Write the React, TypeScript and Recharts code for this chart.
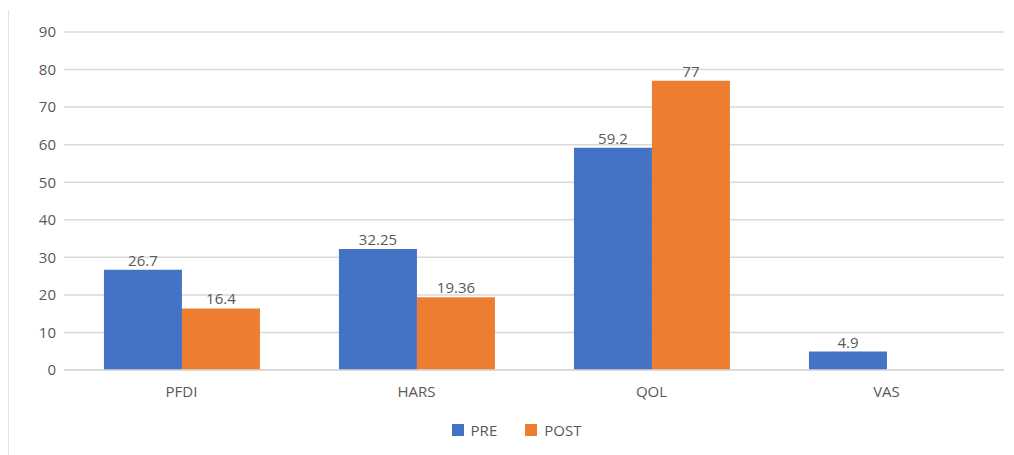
import React from "react";
import { BarChart, Bar, XAxis, YAxis, CartesianGrid, Legend, LabelList } from "recharts";

const categories = ["PFDI", "HARS", "QOL", "VAS"];
const preValues = [26.7, 32.25, 59.2, 4.9];
const postValues: (number | null)[] = [16.4, 19.36, 77, null];
const yTicks = [0, 10, 20, 30, 40, 50, 60, 70, 80, 90];
const seriesNames = ["PRE", "POST"];
const seriesColors = ["#4472C4", "#ED7D31"];

const data = categories.map((c, i) => ({ name: c, PRE: preValues[i], POST: postValues[i] }));

const FONT = "'Open Sans', 'Noto Sans', sans-serif";
const TXT = "#595959";

const LegendContent = () => (
  <div style={{ display: "flex", justifyContent: "center", gap: 28, fontSize: 15, fontFamily: FONT, color: TXT, paddingLeft: 20 }}>
    {seriesNames.map((n, i) => (
      <div key={n} style={{ display: "flex", alignItems: "center", gap: 7 }}>
        <span style={{ display: "inline-block", width: 12, height: 12, background: seriesColors[i] }} />
        <span>{n}</span>
      </div>
    ))}
  </div>
);

export default function App() {
  return (
    <div style={{ width: 1006, height: 447, borderLeft: "1px solid #e4e4e4", marginTop: 2, fontFamily: FONT }}>
      <BarChart
        width={1000}
        height={445}
        data={data}
        margin={{ top: 22, right: 5, left: 0, bottom: 15 }}
        barCategoryGap="17%"
        barGap={0}
      >
        <CartesianGrid vertical={false} stroke="#d9d9d9" strokeWidth={1.5} />
        <XAxis
          dataKey="name"
          height={50}
          axisLine={{ stroke: "#d9d9d9", strokeWidth: 1.5 }}
          tickLine={false}
          tick={{ fill: TXT, fontSize: 15, fontFamily: FONT }}
          tickMargin={10}
        />
        <YAxis
          domain={[0, 90]}
          ticks={yTicks}
          width={55}
          axisLine={false}
          tickLine={false}
          tick={{ fill: TXT, fontSize: 15, fontFamily: FONT }}
          tickMargin={2}
        />
        <Legend verticalAlign="bottom" content={<LegendContent />} />
        <Bar dataKey="PRE" fill={seriesColors[0]} isAnimationActive={false}>
          <LabelList dataKey="PRE" position="top" fill={TXT} fontSize={15} fontFamily={FONT} offset={4} />
        </Bar>
        <Bar dataKey="POST" fill={seriesColors[1]} isAnimationActive={false}>
          <LabelList dataKey="POST" position="top" fill={TXT} fontSize={15} fontFamily={FONT} offset={4} />
        </Bar>
      </BarChart>
    </div>
  );
}
